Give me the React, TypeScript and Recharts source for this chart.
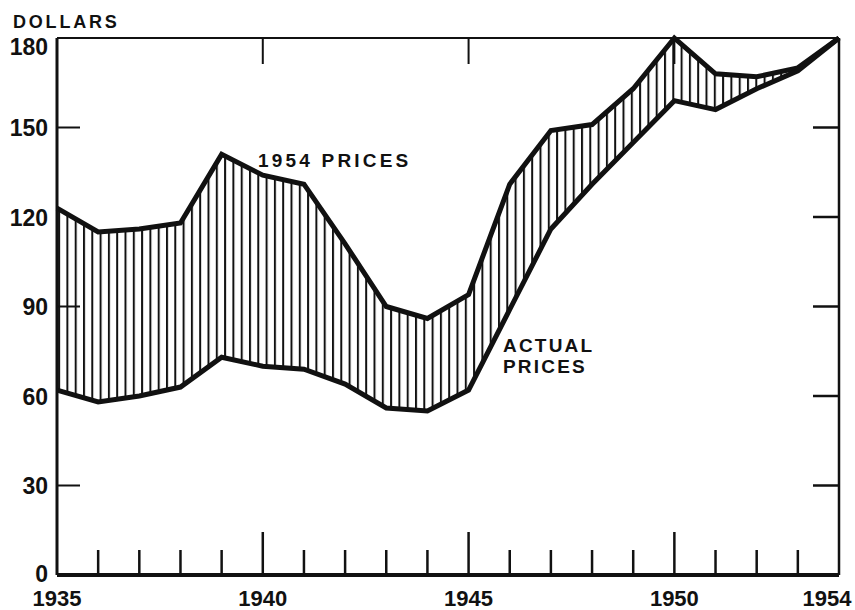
import { ComposedChart, Area, Line, XAxis, YAxis } from 'recharts'

// per capita values, dollars
const years = [1935, 1936, 1937, 1938, 1939, 1940, 1941, 1942, 1943, 1944, 1945, 1946, 1947, 1948, 1949, 1950, 1951, 1952, 1953, 1954]
const constantPrices = [123, 115, 116, 118, 141, 134, 131, 111, 90, 86, 94, 131, 149, 151, 163, 180, 168, 167, 170, 180]
const actualPrices = [62, 58, 60, 63, 73, 70, 69, 64, 56, 55, 62, 89, 116, 131, 145, 159, 156, 163, 169, 180]

const labeledYears = [1935, 1940, 1945, 1950, 1954]
const majorYears = [1940, 1945, 1950]
const topMarks = [1940, 1945, 1950]
const yTicks = [0, 30, 60, 90, 120, 150, 180]
const leftMarks = [30, 90, 150]
const rightMarks = [30, 60, 90, 120, 150]

const data = years.map((year, i) => ({
  year,
  constant: constantPrices[i],
  actual: actualPrices[i],
  band: [actualPrices[i], constantPrices[i]],
}))

const W = 855
const H = 610
const MARGIN = { top: 37, right: 15, bottom: 0, left: 0 }
const PLOT_RIGHT = W - MARGIN.right - 1

const INK = '#111'
const numFont = { fontFamily: '"Liberation Sans", Arial, sans-serif', fontWeight: 700, fontSize: 23, fill: INK }
const wordFont = { fontFamily: '"Liberation Sans", Arial, sans-serif', fontWeight: 700, fontSize: 19, fill: INK }

function BottomTick({ x, y, payload }: any) {
  const yr = payload.value
  const len = majorYears.includes(yr) ? 43 : 25
  const edge = yr === years[0] || yr === years[years.length - 1]
  return (
    <g>
      {!edge && <line x1={x} x2={x} y1={y} y2={y - len} stroke={INK} strokeWidth={2.5} />}
      {labeledYears.includes(yr) && (
        <text x={yr === 1954 ? x - 12 : x} y={y + 31} textAnchor="middle" {...numFont} fontSize={22}>
          {yr}
        </text>
      )}
    </g>
  )
}

function TopTick({ x, y, payload }: any) {
  if (!topMarks.includes(payload.value)) return <g />
  return <line x1={x} x2={x} y1={y} y2={y + 26} stroke={INK} strokeWidth={2} />
}

function LeftTick({ x, y, payload }: any) {
  const v = payload.value
  const dy = v === 180 ? 17 : v === 0 ? 6.5 : 8.5
  return (
    <g>
      {leftMarks.includes(v) && <line x1={x} x2={x + 23} y1={y} y2={y} stroke={INK} strokeWidth={2} />}
      {rightMarks.includes(v) && (
        <line x1={PLOT_RIGHT - 26} x2={PLOT_RIGHT} y1={y} y2={y} stroke={INK} strokeWidth={2.5} />
      )}
      <text x={x - 9} y={y + dy} textAnchor="end" {...numFont}>
        {v}
      </text>
    </g>
  )
}

export default function App() {
  return (
    <div style={{ position: 'absolute', left: 0, top: 0, width: W, height: H, background: '#fff' }}>
      <ComposedChart width={W} height={H} data={data} margin={MARGIN}>
        <defs>
          <pattern id="hatch" patternUnits="userSpaceOnUse" width={8.3} height={10}>
            <rect x={0} y={0} width={2} height={10} fill={INK} />
          </pattern>
        </defs>
        <XAxis
          dataKey="year"
          type="number"
          domain={[1935, 1954]}
          ticks={years}
          interval={0}
          height={35}
          tickSize={0}
          tickMargin={0}
          tickLine={false}
          axisLine={{ stroke: INK, strokeWidth: 4 }}
          tick={<BottomTick />}
        />
        <XAxis
          xAxisId="top"
          dataKey="year"
          type="number"
          orientation="top"
          domain={[1935, 1954]}
          ticks={years}
          interval={0}
          height={1}
          tickSize={0}
          tickMargin={0}
          tickLine={false}
          axisLine={{ stroke: INK, strokeWidth: 2 }}
          tick={<TopTick />}
        />
        <YAxis
          domain={[0, 180]}
          ticks={yTicks}
          interval={0}
          width={57}
          tickSize={0}
          tickMargin={0}
          tickLine={false}
          axisLine={{ stroke: INK, strokeWidth: 3 }}
          tick={<LeftTick />}
        />
        <YAxis
          yAxisId="right"
          orientation="right"
          domain={[0, 180]}
          ticks={yTicks}
          width={1}
          tick={false}
          tickLine={false}
          axisLine={{ stroke: INK, strokeWidth: 2.5 }}
        />
        <Area dataKey="band" type="linear" stroke="none" fill="url(#hatch)" fillOpacity={1} isAnimationActive={false} />
        <Line dataKey="constant" type="linear" stroke={INK} strokeWidth={5} dot={false} strokeLinejoin="miter" isAnimationActive={false} />
        <Line dataKey="actual" type="linear" stroke={INK} strokeWidth={5} dot={false} strokeLinejoin="miter" isAnimationActive={false} />
        <text x={13} y={28} letterSpacing={2.8} {...wordFont} fontSize={18}>DOLLARS</text>
        <text x={258} y={167} letterSpacing={3.2} {...wordFont}>1954 PRICES</text>
        <text x={503} y={352} letterSpacing={2.2} {...wordFont}>ACTUAL</text>
        <text x={503} y={373} letterSpacing={2.2} {...wordFont}>PRICES</text>
      </ComposedChart>
    </div>
  )
}
